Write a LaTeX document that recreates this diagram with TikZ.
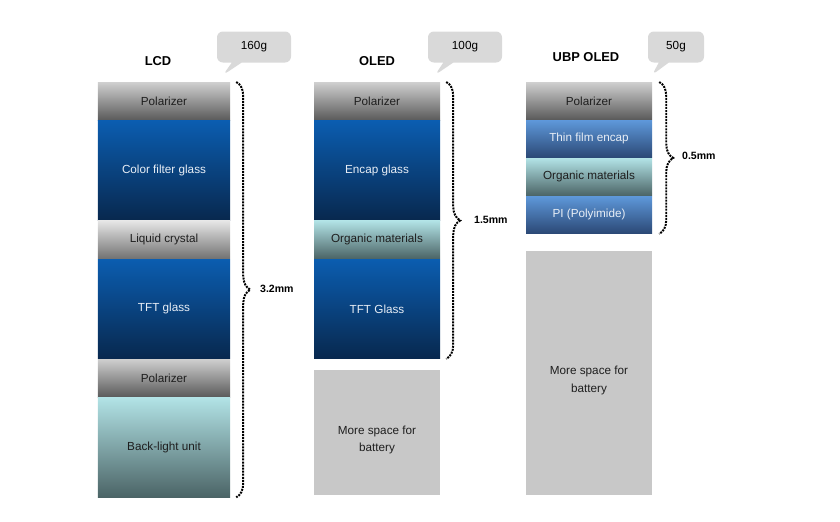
\documentclass[tikz,border=0pt]{standalone}
\usepackage{fontspec}
\setmainfont{Liberation Sans}
\usepackage{xcolor}
\usetikzlibrary{positioning,decorations.pathreplacing,shapes.callouts}

\definecolor{poltop}{HTML}{CFCFCF}
\definecolor{polbot}{HTML}{5A5A5A}
\definecolor{lctop}{HTML}{E6E6E6}
\definecolor{lcbot}{HTML}{727272}
\definecolor{glasstop}{HTML}{0B5DB0}
\definecolor{glassbot}{HTML}{08284E}
\definecolor{orgtop}{HTML}{B2E3E6}
\definecolor{orgbot}{HTML}{4B6466}
\definecolor{filmtop}{HTML}{5E98DA}
\definecolor{filmbot}{HTML}{2B4875}
\definecolor{battery}{HTML}{C8C8C8}
\definecolor{bubble}{HTML}{D9D9D9}
\definecolor{lighttext}{HTML}{E8EEF6}
\definecolor{darktext}{HTML}{1E1E1E}

\begin{document}
\begin{tikzpicture}[
    x=0.03cm, y=-0.03cm,
    node distance=0pt,
    layer/.style={rectangle, inner sep=0pt, align=center, minimum width=3.78cm, font=\fontsize{10}{12}\selectfont},
    thinlayer/.style={layer, minimum height=1.14cm},
    thicklayer/.style={layer, minimum height=2.985cm},
    filmlayer/.style={layer, minimum height=1.125cm},
    polfill/.style={top color=poltop, bottom color=polbot, text=darktext},
    lcfill/.style={top color=lctop, bottom color=lcbot, text=darktext},
    glassfill/.style={top color=glasstop, bottom color=glassbot, text=lighttext},
    orgfill/.style={top color=orgtop, bottom color=orgbot, text=darktext},
    filmfill/.style={top color=filmtop, bottom color=filmbot, text=lighttext},
    spacebox/.style={rectangle, inner sep=0pt, fill=battery, minimum width=3.78cm},
    spacetext/.style={align=center, text=darktext, font=\fontsize{10}{15}\selectfont},
    coltitle/.style={font=\fontsize{11}{13}\selectfont\bfseries},
    weight/.style={rectangle callout, rounded corners=5pt, fill=bubble, minimum height=0.93cm, callout pointer width=0.3cm, font=\fontsize{10}{12}\selectfont},
    dotbrace/.style={decorate, decoration={brace, amplitude=0.42cm}, line width=1.7pt, dash pattern=on 1.7pt off 0.9pt},
    thickness/.style={anchor=west, font=\fontsize{9}{11}\selectfont\bfseries}
]
\useasboundingbox (0,0) rectangle (840,521);

% LCD
\node[coltitle] (lcdtitle) at (158,61) {LCD};
\node[thinlayer, polfill, minimum width=3.96cm, anchor=north] (lcdpola) at (164,82) {Polarizer};
\node[thicklayer, glassfill, minimum width=3.96cm, below=of lcdpola] (lcdcf) {Color filter glass};
\node[thinlayer, lcfill, minimum width=3.96cm, below=of lcdcf] (lcdlc) {Liquid crystal};
\node[thicklayer, glassfill, minimum width=3.96cm, below=of lcdlc] (lcdtft) {TFT glass};
\node[thinlayer, polfill, minimum width=3.96cm, below=of lcdtft] (lcdpolb) {Polarizer};
\node[thicklayer, orgfill, minimum width=3.96cm, below=of lcdpolb] (lcdblu) {Back-light unit};
\coordinate (lcdtip) at (223,75);
\node[weight, minimum width=2.22cm, callout absolute pointer={(lcdtip)}] (lcdweight) at (254,47) {160g};
\draw[dotbrace] ([xshift=0.18cm]lcdpola.north east) -- ([xshift=0.18cm]lcdblu.south east);
\node[thickness] (lcdmm) at (256,289) {3.2mm};

% OLED
\node[coltitle] (oledtitle) at (377,61) {OLED};
\node[thinlayer, polfill, anchor=north] (oledpol) at (377,82) {Polarizer};
\node[thicklayer, glassfill, below=of oledpol] (oledencap) {Encap glass};
\node[thinlayer, orgfill, below=of oledencap] (oledorg) {Organic materials};
\node[thicklayer, glassfill, below=of oledorg] (oledtft) {TFT Glass};
\node[spacebox, minimum height=3.75cm, anchor=north] (oledbat) at (377,370) {};
\node[spacetext] (oledbattext) at ([yshift=-0.22cm]oledbat.center) {More space for\\battery};
\coordinate (oledtip) at (435,75);
\node[weight, minimum width=2.22cm, callout absolute pointer={(oledtip)}] (oledweight) at (465,47) {100g};
\draw[dotbrace] ([xshift=0.18cm]oledpol.north east) -- ([xshift=0.18cm]oledtft.south east);
\node[thickness] (oledmm) at (470,220) {1.5mm};

% UBP OLED
\node[coltitle] (ubptitle) at (586,57) {UBP OLED};
\node[filmlayer, polfill, anchor=north] (ubppol) at (589,82) {Polarizer};
\node[filmlayer, filmfill, below=of ubppol] (ubpfilm) {Thin film encap};
\node[filmlayer, orgfill, below=of ubpfilm] (ubporg) {Organic materials};
\node[filmlayer, filmfill, below=of ubporg] (ubppi) {PI (Polyimide)};
\node[spacebox, minimum height=7.32cm, anchor=north] (ubpbat) at (589,251) {};
\node[spacetext] (ubpbattext) at ([yshift=-0.22cm]ubpbat.center) {More space for\\battery};
\coordinate (ubptip) at (652,75);
\node[weight, minimum width=1.68cm, callout absolute pointer={(ubptip)}] (ubpweight) at (676,47) {50g};
\draw[dotbrace] ([xshift=0.21cm]ubppol.north east) -- ([xshift=0.21cm]ubppi.south east);
\node[thickness] (ubpmm) at (678,156) {0.5mm};
\end{tikzpicture}
\end{document}
